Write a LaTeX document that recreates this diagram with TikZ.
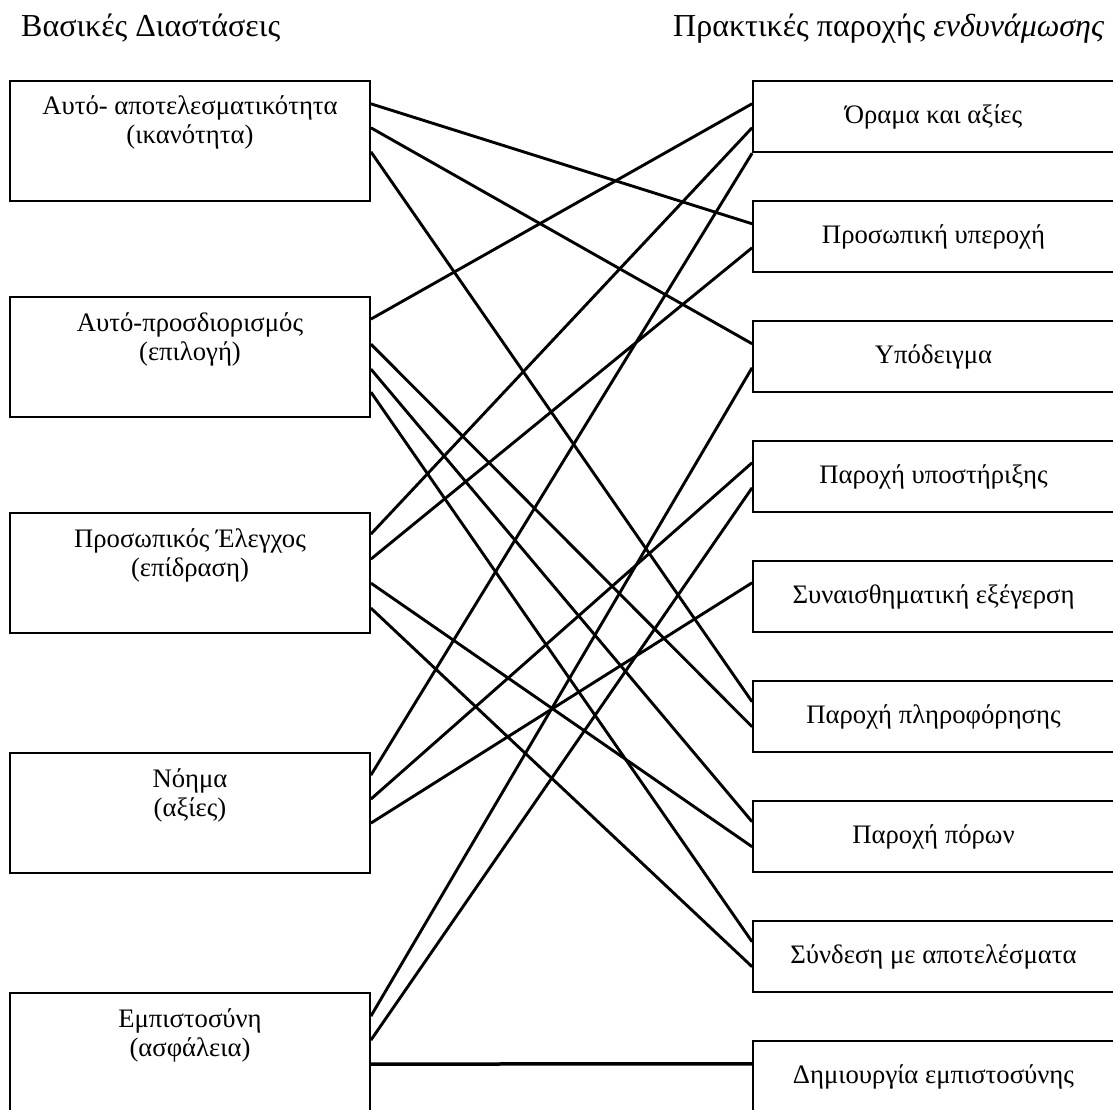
\documentclass[tikz,border=0pt]{standalone}
\usepackage{fontspec}
\setmainfont{Liberation Serif}
\begin{document}
\begin{tikzpicture}[x=1pt,y=-1pt,
  lbox/.style={draw,line width=1.8pt,minimum width=360pt,minimum height=120pt,inner sep=0pt},
  rbox/.style={draw,line width=1.8pt,minimum width=361pt,minimum height=71.7pt,inner sep=0pt,font=\fontsize{26.7}{29}\selectfont},
  ltext/.style={anchor=base,inner sep=0pt,font=\fontsize{26.7}{29}\selectfont},
  title/.style={anchor=base west,inner sep=0pt,font=\fontsize{32}{36}\selectfont},
  link/.style={line width=2.9pt},
  thick link/.style={line width=3.5pt}]
\useasboundingbox (0,0) rectangle (1113,1109);
\clip (0,0) rectangle (1113,1109);

% titles
\node[title] (T1) at (21,36) {Βασικές Διαστάσεις};
\node[title] (T2) at (673,36) {Πρακτικές παροχής \textit{ενδυνάμωσης}};

% left boxes
\node[lbox] (L1) at (190,140.7) {};
\node[lbox] (L2) at (190,357) {};
\node[lbox] (L3) at (190,573) {};
\node[lbox] (L4) at (190,813) {};
\node[lbox] (L5) at (190,1053) {};

\node[ltext] (L1a) at ([yshift=-35pt]L1.north) {Αυτό- αποτελεσματικότητα};
\node[ltext] (L1b) at ([yshift=-64pt]L1.north) {(ικανότητα)};
\node[ltext] (L2a) at ([yshift=-35pt]L2.north) {Αυτό-προσδιορισμός};
\node[ltext] (L2b) at ([yshift=-64pt]L2.north) {(επιλογή)};
\node[ltext] (L3a) at ([yshift=-35pt]L3.north) {Προσωπικός Έλεγχος};
\node[ltext] (L3b) at ([yshift=-64pt]L3.north) {(επίδραση)};
\node[ltext] (L4a) at ([yshift=-35pt]L4.north) {Νόημα};
\node[ltext] (L4b) at ([yshift=-64pt]L4.north) {(αξίες)};
\node[ltext] (L5a) at ([yshift=-35pt]L5.north) {Εμπιστοσύνη};
\node[ltext] (L5b) at ([yshift=-64pt]L5.north) {(ασφάλεια)};

% right boxes
\node[rbox] (R1) at (933.5,116.5) {Όραμα και αξίες};
\node[rbox] (R2) at (933.5,236.5) {Προσωπική υπεροχή};
\node[rbox] (R3) at (933.5,356.5) {Υπόδειγμα};
\node[rbox] (R4) at (933.5,476.5) {Παροχή υποστήριξης};
\node[rbox] (R5) at (933.5,596.5) {Συναισθηματική εξέγερση};
\node[rbox] (R6) at (933.5,716.5) {Παροχή πληροφόρησης};
\node[rbox] (R7) at (933.5,836.5) {Παροχή πόρων};
\node[rbox] (R8) at (933.5,956.5) {Σύνδεση με αποτελέσματα};
\node[rbox] (R9) at (933.5,1076.5) {Δημιουργία εμπιστοσύνης};

% connectors
\draw[link] ([yshift=-24pt]L1.north east) -- ([yshift=-24pt]R2.north west);
\draw[link] ([yshift=-48pt]L1.north east) -- ([yshift=-24pt]R3.north west);
\draw[link] ([yshift=-72pt]L1.north east) -- ([yshift=-22pt]R6.north west);

\draw[link] ([yshift=-23pt]L2.north east) -- ([yshift=-24pt]R1.north west);
\draw[link] ([yshift=-48pt]L2.north east) -- ([yshift=-47pt]R6.north west);
\draw[link] ([yshift=-73pt]L2.north east) -- ([yshift=-22pt]R7.north west);
\draw[link] ([yshift=-96pt]L2.north east) -- ([yshift=-22pt]R8.north west);

\draw[link] ([yshift=-22pt]L3.north east) -- ([yshift=-48pt]R1.north west);
\draw[link] ([yshift=-47pt]L3.north east) -- ([yshift=-48pt]R2.north west);
\draw[link] ([yshift=-71pt]L3.north east) -- ([yshift=-47pt]R7.north west);
\draw[link] ([yshift=-96pt]L3.north east) -- ([yshift=-47pt]R8.north west);

\draw[link] ([yshift=-23pt]L4.north east) -- (R1.south west);
\draw[link] ([yshift=-47pt]L4.north east) -- ([yshift=-23pt]R4.north west);
\draw[link] ([yshift=-71pt]L4.north east) -- ([yshift=-23pt]R5.north west);

\draw[link] ([yshift=-24pt]L5.north east) -- ([yshift=-48pt]R3.north west);
\draw[link] ([yshift=-48pt]L5.north east) -- ([yshift=-48pt]R4.north west);
\draw[thick link] ([yshift=-72pt]L5.north east) -- ([yshift=-24pt]R9.north west);
\end{tikzpicture}
\end{document}
